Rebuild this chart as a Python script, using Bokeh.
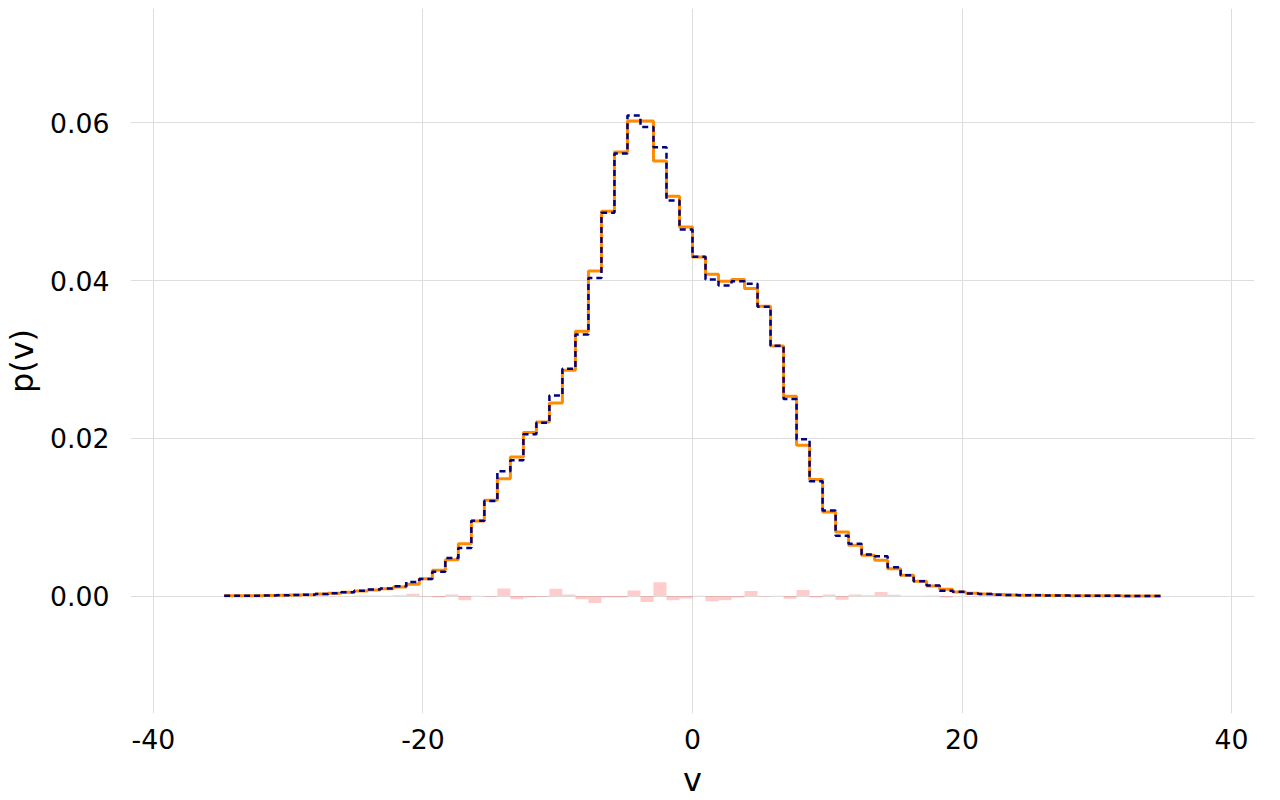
import numpy as np
from bokeh.plotting import figure
from bokeh.models import FixedTicker, NumeralTickFormatter, Range1d
from bokeh.embed import file_html
from bokeh.resources import INLINE

# ---- data -------------------------------------------------------------
V_MIN, V_MAX, N_BINS = -34.75, 34.75, 72

p_orange = [
    0.00002, 0.00003, 0.00004, 0.00006, 0.00008, 0.00012, 0.00017, 0.00025,
    0.00034, 0.00047, 0.00063, 0.00076, 0.00093, 0.00114, 0.00148, 0.00220,
    0.00326, 0.00461, 0.00664, 0.00951, 0.01214, 0.01488, 0.01763, 0.02072,
    0.02207, 0.02448, 0.02862, 0.03357, 0.04122, 0.04879, 0.05631, 0.06024,
    0.06024, 0.05517, 0.05069, 0.04680, 0.04299, 0.04080, 0.03991, 0.04012,
    0.03898, 0.03674, 0.03171, 0.02533, 0.01911, 0.01476, 0.01065, 0.00812,
    0.00643, 0.00516, 0.00453, 0.00347, 0.00262, 0.00186, 0.00127, 0.00085,
    0.00051, 0.00034, 0.00025, 0.00018, 0.00012, 0.00010, 0.00008, 0.00006,
    0.00005, 0.00004, 0.00003, 0.00002, 0.00002, 0.00001, 0.00001, 0.00001,
]

p_navy = [
    0.00002, 0.00003, 0.00004, 0.00006, 0.00008, 0.00012, 0.00017, 0.00025,
    0.00034, 0.00047, 0.00068, 0.00081, 0.00096, 0.00124, 0.00178, 0.00215,
    0.00306, 0.00481, 0.00609, 0.00954, 0.01204, 0.01583, 0.01721, 0.02052,
    0.02197, 0.02541, 0.02882, 0.03317, 0.04032, 0.04859, 0.05611, 0.06094,
    0.05948, 0.05692, 0.05014, 0.04648, 0.04301, 0.04015, 0.03936, 0.03992,
    0.03961, 0.03669, 0.03173, 0.02499, 0.01987, 0.01456, 0.01085, 0.00765,
    0.00663, 0.00526, 0.00503, 0.00364, 0.00264, 0.00188, 0.00132, 0.00065,
    0.00053, 0.00032, 0.00025, 0.00016, 0.00014, 0.00010, 0.00008, 0.00006,
    0.00005, 0.00004, 0.00003, 0.00002, 0.00002, 0.00001, 0.00001, 0.00001,
]

p_diff = [
    0.0, 0.0, 0.0, 0.0, 0.0, 0.0, 0.0, 0.0,
    0.0, 0.0, 0.00005, 0.00005, 0.00003, 0.0001, 0.0003, -0.00005,
    -0.0002, 0.0002, -0.00055, 0.00003, -0.0001, 0.00095, -0.00042, -0.0002,
    -0.0001, 0.00093, 0.0002, -0.0004, -0.0009, -0.0002, -0.0002, 0.0007,
    -0.00076, 0.00175, -0.00055, -0.00032, 0.00002, -0.00065, -0.00055, -0.0002,
    0.00063, -0.00005, 0.00002, -0.00034, 0.00076, -0.0002, 0.0002, -0.00047,
    0.0002, 0.0001, 0.0005, 0.00017, 0.00002, 0.00002, 0.00005, -0.0002,
    0.00002, -0.00002, 0.0, -0.00002, 0.00002, 0.0, 0.0, 0.0,
    0.0, 0.0, 0.0, 0.0, 0.0, 0.0, 0.0, 0.0,
]

x_ticks = [-40, -20, 0, 20, 40]
y_ticks = [0.0, 0.02, 0.04, 0.06]

# ---- derived geometry -------------------------------------------------
edges = np.linspace(V_MIN, V_MAX, N_BINS + 1)
centers = 0.5 * (edges[:-1] + edges[1:])
bin_w = edges[1] - edges[0]

FONT = "DejaVu Sans"

p = figure(
    frame_width=1124, frame_height=705,
    x_range=Range1d(-41.7, 41.7),
    y_range=Range1d(-0.0149, 0.0745),
    output_backend="svg", toolbar_location=None,
    min_border_left=123, min_border_right=17,
    min_border_top=8, min_border_bottom=79,
)
p.outline_line_color = None
p.background_fill_color = "white"
p.border_fill_color = "white"

# difference bars
p.vbar(x=centers, width=bin_w, top=p_diff, bottom=0,
       fill_color="red", fill_alpha=0.2, line_color=None)

# step histograms
p.step(x=list(edges), y=list(p_orange) + [p_orange[-1]], mode="after",
       line_color="darkorange", line_width=3)
p.step(x=list(edges), y=list(p_navy) + [p_navy[-1]], mode="after",
       line_color="navy", line_width=2.5, line_dash="6 4")

# axes
p.xaxis.ticker = FixedTicker(ticks=x_ticks)
p.xaxis.formatter = NumeralTickFormatter(format="0")
p.yaxis.ticker = FixedTicker(ticks=y_ticks)
p.yaxis.formatter = NumeralTickFormatter(format="0.00")
p.xaxis.axis_label = "v"
p.yaxis.axis_label = "p(v)"

for ax in (p.xaxis, p.yaxis):
    ax.axis_line_color = None
    ax.major_tick_line_color = None
    ax.minor_tick_line_color = None
    ax.major_tick_out = 0
    ax.major_tick_in = 0
    ax.minor_tick_out = 0
    ax.minor_tick_in = 0
    ax.major_label_text_font = FONT
    ax.major_label_text_font_size = "26.7px"
    ax.major_label_text_color = "black"
    ax.axis_label_text_font = FONT
    ax.axis_label_text_font_size = "32px"
    ax.axis_label_text_font_style = "normal"
    ax.axis_label_text_color = "black"

p.yaxis.major_label_standoff = 21
p.yaxis.axis_label_standoff = 6
p.xaxis.major_label_standoff = 15
p.xaxis.axis_label_standoff = 9

p.grid.grid_line_color = "#dddddd"
p.grid.grid_line_width = 1
p.xgrid.ticker = FixedTicker(ticks=x_ticks)
p.ygrid.ticker = FixedTicker(ticks=y_ticks)

open("out.html", "w").write(file_html(p, INLINE))
